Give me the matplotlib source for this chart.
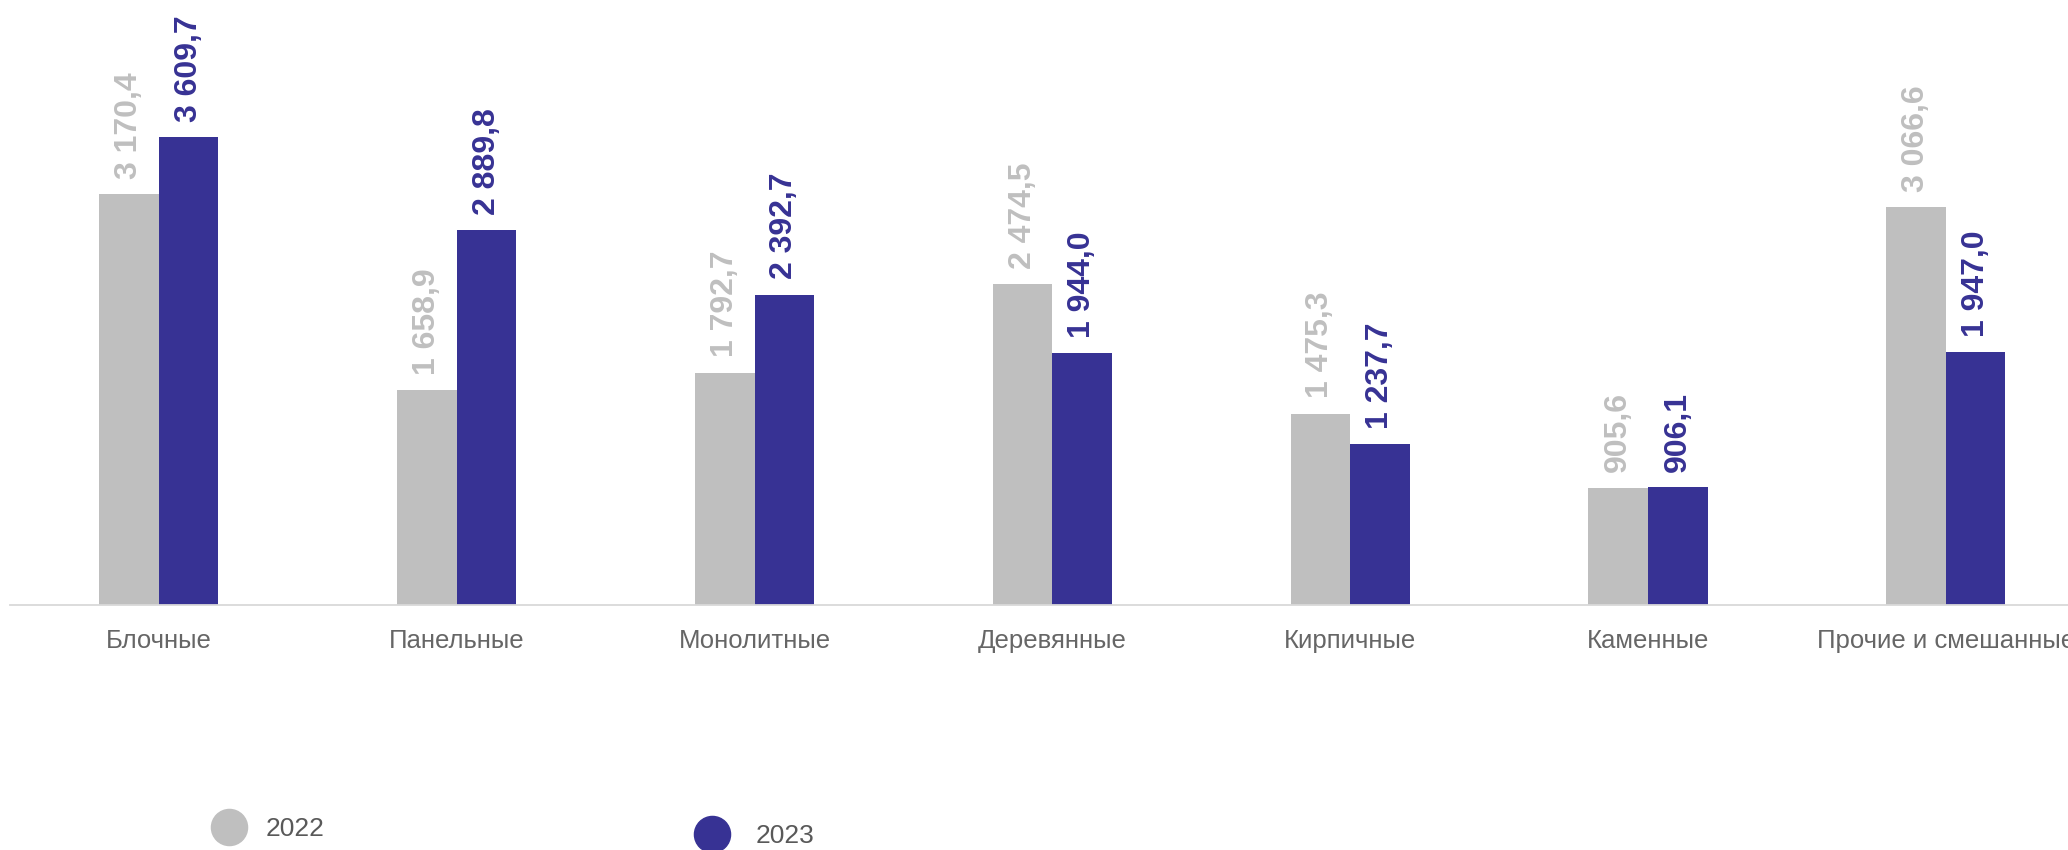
import matplotlib
matplotlib.use("Agg")
import matplotlib.pyplot as plt
import numpy as np

categories = ["Блочные", "Панельные", "Монолитные", "Деревянные", "Кирпичные", "Каменные", "Прочие и смешанные"]
values_2022 = [3170.4, 1658.9, 1792.7, 2474.5, 1475.3, 905.6, 3066.6]
values_2023 = [3609.7, 2889.8, 2392.7, 1944.0, 1237.7, 906.1, 1947.0]
series_names = ["2022", "2023"]

c22 = "#BFBFBF"
c23 = "#373294"

def fmt(v):
    s = f"{v:,.1f}".replace(",", " ").replace(".", ",")
    return s

plt.rcParams['font.family'] = ['Liberation Sans', 'DejaVu Sans']

fig = plt.figure(figsize=(20.68, 8.5), dpi=100)
ax = fig.add_axes([10/2068, 245/850, 1 - 10/2068, 605/850])

x = np.arange(len(categories))
w = 0.2
b1 = ax.bar(x - w/2, values_2022, width=w, color=c22)
b2 = ax.bar(x + w/2, values_2023, width=w, color=c23)

ax.set_xlim(-0.5, 6.41)
ax.set_ylim(0, 4665)

for xi, v in zip(x - w/2, values_2022):
    ax.annotate(fmt(v), (xi, v), xytext=(0, 11), textcoords="offset points",
                rotation=90, ha="center", va="bottom", fontsize=23, color=c22,
                fontweight="bold")
for xi, v in zip(x + w/2, values_2023):
    ax.annotate(fmt(v), (xi, v), xytext=(0, 11), textcoords="offset points",
                rotation=90, ha="center", va="bottom", fontsize=23, color=c23,
                fontweight="bold")

for s in ["top", "right", "left"]:
    ax.spines[s].set_visible(False)
ax.spines["bottom"].set_color("#D9D9D9")
ax.spines["bottom"].set_linewidth(1.3)
ax.set_yticks([])
ax.set_xticks(x)
ax.set_xticklabels(categories, fontsize=18.5, color="#666666")
ax.tick_params(axis="x", length=0, pad=17)

# legend
fig.lines.append(plt.Line2D([229/2068], [1 - 827/850], marker="o", markersize=26,
                            color=c22, linestyle="none", transform=fig.transFigure))
fig.text(266/2068, 1 - 829/850, series_names[0], fontsize=19, color="#595959", va="center", ha="left")
fig.lines.append(plt.Line2D([712/2068], [1 - 834/850], marker="o", markersize=26,
                            color=c23, linestyle="none", transform=fig.transFigure))
fig.text(756/2068, 1 - 836/850, series_names[1], fontsize=19, color="#595959", va="center", ha="left")

fig.savefig("out.png", dpi=100)
